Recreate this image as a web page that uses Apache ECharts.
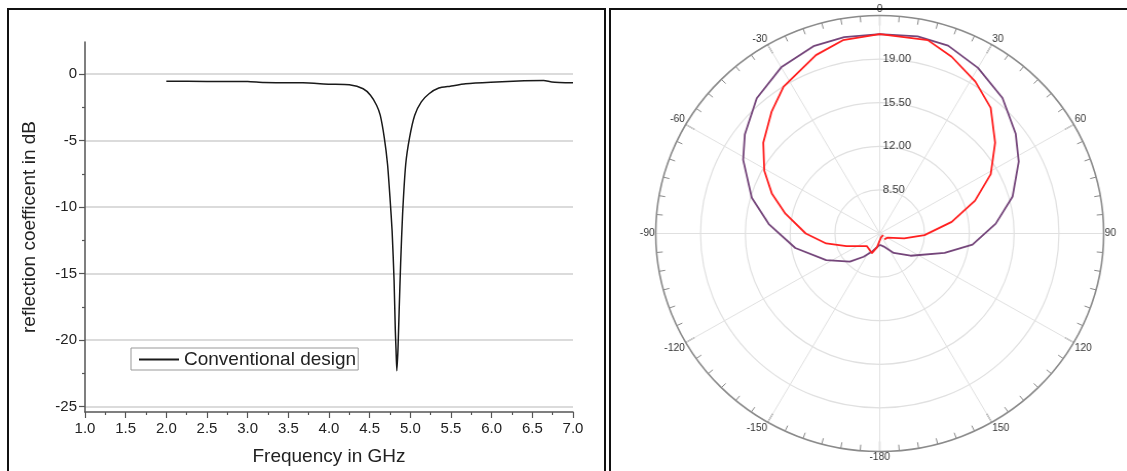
<!DOCTYPE html>
<html>
<head>
<meta charset="utf-8">
<script src="https://cdn.jsdelivr.net/npm/echarts@6.0.0/dist/echarts.min.js"></script>
<style>
  html, body { margin: 0; padding: 0; background: #fff; }
  #wrap { position: relative; width: 1127px; height: 471px; overflow: hidden; background: #fff; }
  #left { position: absolute; left: 0; top: 0; width: 608px; height: 471px; }
  #right { position: absolute; left: 610px; top: 0; width: 504px; height: 471px;
           transform-origin: 0 0; transform: scaleX(1.0275); }
  .panel { position: absolute; border: 2.5px solid #111; pointer-events: none; box-sizing: border-box; }
</style>
</head>
<body>
<div id="wrap">
  <div id="left"></div>
  <div id="right"></div>
  <div class="panel" style="left:7px; top:8px; width:599px; height:480px;"></div>
  <div class="panel" style="left:609px; top:8px; width:540px; height:480px;"></div>
</div>
<script>
// ---- Left chart: reflection coefficient (dB) vs frequency (GHz) ----
const freqGHz = [2.0, 2.5, 3.0, 3.2, 3.68, 4.01, 4.25, 4.42, 4.51, 4.585, 4.63, 4.68, 4.72, 4.75, 4.776, 4.80, 4.815, 4.824, 4.834,
                 4.848, 4.862, 4.881, 4.905, 4.943, 4.99, 5.054, 5.135, 5.23, 5.35, 5.49, 5.68, 5.99, 6.4, 6.64, 6.74, 7.0];
const reflectionDb = [-0.54, -0.56, -0.57, -0.64, -0.67, -0.77, -0.82, -1.11, -1.6, -2.35, -3.1, -4.8, -6.8, -9.3, -11.8, -15.5, -19.2, -20.7, -22.3,
                      -20.7, -17.9, -14.2, -10.5, -6.8, -4.8, -3.1, -2.1, -1.49, -1.06, -0.92, -0.74, -0.62, -0.52, -0.5, -0.6, -0.67];
const seriesName = 'Conventional design';
const xTitle = 'Frequency in GHz';
const yTitle = 'reflection coefficent in dB';
const yTickValues = [-25, -20, -15, -10, -5, 0];
const yMinorTickValues = [-22.5, -17.5, -12.5, -7.5, -2.5];

// ---- Right chart: polar radiation pattern ----
const purpleAngle = [-180, -157, -146, -134, -117, -100, -85, -74, -61, -53, -41.5, -30, -19, -10, 0, 10.6, 19.5, 30, 41.4, 53, 62, 74, 85, 97, 107, 126.5, 145, 163, 180];
const purpleGain  = [5.9, 6.6, 7.25, 8.24, 9.7, 11.7, 13.7, 15.4, 17.2, 18.2, 19.5, 20.4, 20.9, 21.0, 21.0, 21.1, 21.0, 20.35, 19.5, 18.3, 17.3, 15.8, 14.1, 12.3, 10.3, 8.0, 6.9, 6.1, 5.9];
const redAngle = [142, 118, 101.8, 92.2, 80.6, 70.5, 61.2, 51, 40.7, 31.5, 21.6, 13.6, 0, -10.5, -19.2, -32.5, -40.7, -51.3, -60.8, -69.3, -77.8, -90, -100.8, -111.2, -135, -159, -169, 161.6, 116.6];
const redGain  = [5.6, 5.7, 6.95, 8.5, 10.7, 12.9, 14.9, 16.6, 18.3, 19.3, 20.26, 20.97, 21.0, 20.78, 20.16, 18.98, 17.94, 16.66, 15.33, 14.0, 12.54, 10.78, 9.26, 7.79, 6.43, 6.7, 6.13, 5.33, 5.3];
const radialTicks = [8.5, 12, 15.5, 19];

const FONT = 'Liberation Sans, Arial, sans-serif';
const chartL = echarts.init(document.getElementById('left'), null, { renderer: 'canvas' });
const chartR = echarts.init(document.getElementById('right'), null, { renderer: 'canvas' });

const lineData = freqGHz.map((f, i) => [f, reflectionDb[i]]);
const purpleData = purpleAngle.map((a, i) => [purpleGain[i], a]);
const redData = redAngle.map((a, i) => [redGain[i], a]);

function angleLabel(v) {
  if (v === 0) return '0';
  if (v >= 180) return String(v - 360);
  return String(v);
}

chartL.setOption({
  animation: false,
  textStyle: { fontFamily: FONT },
  grid: { left: 85, top: 42, width: 488, height: 373, containLabel: false },
  xAxis: {
    type: 'value', min: 1, max: 7, interval: 0.5,
    name: xTitle, nameLocation: 'middle', nameGap: 35,
    nameTextStyle: { fontSize: 19, color: '#222', fontFamily: FONT },
    axisLine: { show: true, onZero: false, lineStyle: { color: '#555', width: 1.5 } },
    axisTick: { show: true, length: 6, lineStyle: { color: '#555', width: 1.2 } },
    minorTick: { show: true, splitNumber: 2, length: 3, lineStyle: { color: '#555', width: 1.2 } },
    axisLabel: { fontSize: 15, color: '#222', margin: 9, formatter: v => v.toFixed(1), fontFamily: FONT },
    splitLine: { show: false }
  },
  yAxis: [
    {
      type: 'value', min: -25.4, max: 2.4, position: 'left',
      name: yTitle, nameLocation: 'middle', nameGap: 46, nameRotate: 90,
      nameTextStyle: { fontSize: 19, color: '#222', fontFamily: FONT },
      axisLine: { show: true, onZero: false, lineStyle: { color: '#555', width: 1.5 } },
      axisTick: { show: true, length: 6, customValues: yTickValues, lineStyle: { color: '#555', width: 1.2 } },
      minorTick: { show: false },
      axisLabel: { fontSize: 15, color: '#222', margin: 8, customValues: yTickValues, fontFamily: FONT },
      splitLine: { show: true, lineStyle: { color: '#cfcfcf', width: 1.5 } }
    },
    {
      type: 'value', min: -25.4, max: 2.4, position: 'left', offset: 0,
      axisLine: { show: false, onZero: false },
      axisTick: { show: true, length: 3, customValues: yMinorTickValues, lineStyle: { color: '#555', width: 1.2 } },
      axisLabel: { show: false, customValues: yMinorTickValues },
      splitLine: { show: false }
    }
  ],
  legend: {
    show: true, left: 131, top: 348, orient: 'horizontal',
    data: [seriesName],
    itemWidth: 40, itemHeight: 14, itemGap: 5,
    itemStyle: { opacity: 0 },
    padding: [2, 2, 1, 7],
    borderColor: '#999', borderWidth: 1, borderRadius: 0,
    backgroundColor: '#fff',
    textStyle: { fontSize: 19, color: '#222', fontFamily: FONT }
  },
  series: [
    {
      name: seriesName, type: 'line', yAxisIndex: 0,
      data: lineData, showSymbol: false, symbol: 'none', smooth: 0.2,
      lineStyle: { color: '#1a1a1a', width: 1.5 }, itemStyle: { color: '#1a1a1a' }
    }
  ]
});

chartR.setOption({
  animation: false,
  textStyle: { fontFamily: FONT },
  polar: { center: [262.5, 233.5], radius: 218 },
  angleAxis: {
    type: 'value', min: 0, max: 360, interval: 30, startAngle: 90, clockwise: true,
    axisLine: { show: true, lineStyle: { color: '#8a8a8a', width: 1.6 } },
    axisTick: { show: true, inside: true, length: 10, lineStyle: { color: '#777', width: 1.2 } },
    minorTick: { show: true, splitNumber: 6, length: 6, lineStyle: { color: '#888', width: 1 } },
    axisLabel: { fontSize: 10, color: '#333', margin: 1, formatter: angleLabel, fontFamily: FONT },
    splitLine: { show: true, lineStyle: { color: '#e0e0e0', width: 1 } }
  },
  radiusAxis: {
    type: 'value', min: 5, max: 22.5,
    axisLine: { show: false },
    axisTick: { show: false, customValues: radialTicks },
    axisLabel: { show: true, customValues: radialTicks, fontSize: 11, color: '#333', margin: -3, align: 'left',
                 formatter: v => Number(v).toFixed(2), fontFamily: FONT },
    splitLine: { show: true, lineStyle: { color: '#e0e0e0', width: 1.2 } }
  },
  series: [
    {
      name: 'pattern A', type: 'line', coordinateSystem: 'polar',
      data: purpleData, showSymbol: false, symbol: 'none',
      lineStyle: { color: '#74457a', width: 1.8 }, itemStyle: { color: '#74457a' }
    },
    {
      name: 'pattern B', type: 'line', coordinateSystem: 'polar',
      data: redData, showSymbol: false, symbol: 'none',
      lineStyle: { color: '#ff1f1f', width: 1.8 }, itemStyle: { color: '#ff1f1f' }
    }
  ]
});
</script>
</body>
</html>
